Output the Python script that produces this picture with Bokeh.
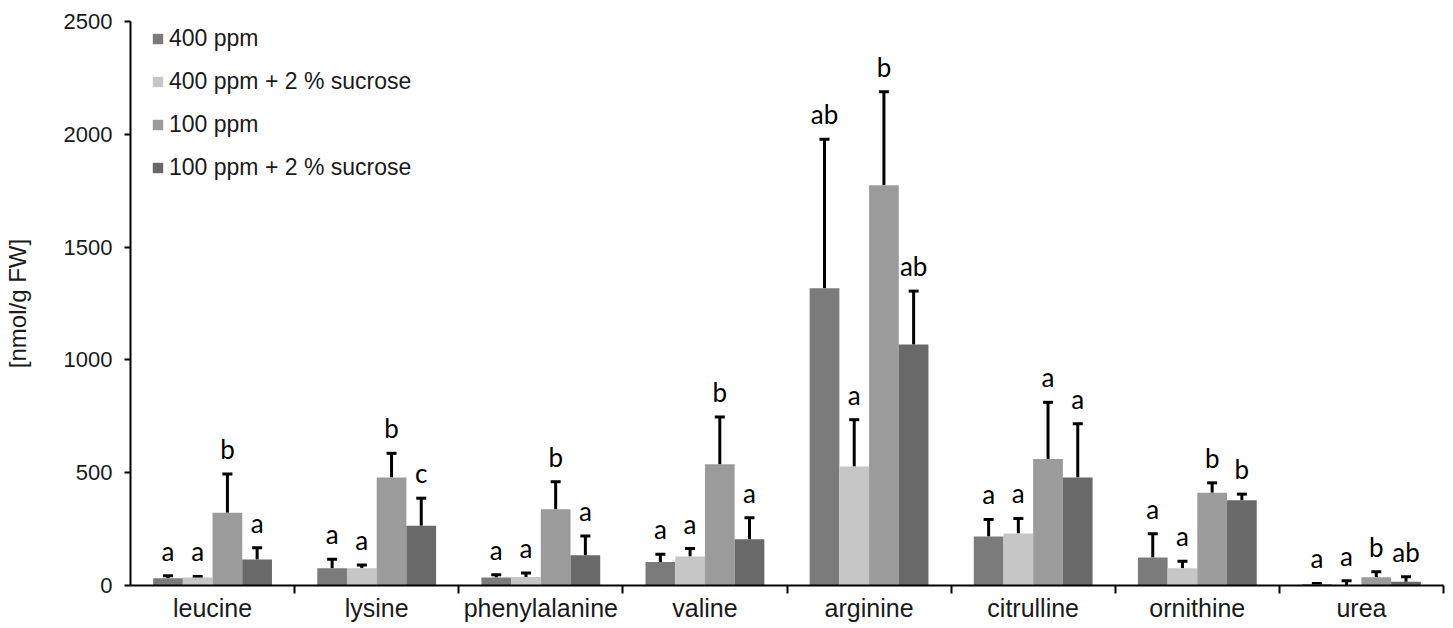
import numpy as np
from bokeh.plotting import figure
from bokeh.models import (ColumnDataSource, Range1d, FixedTicker, Whisker, TeeHead,
                          Legend, LegendItem)
from bokeh.core.properties import value
from bokeh.embed import file_html
from bokeh.resources import INLINE

categories = ["leucine", "lysine", "phenylalanine", "valine",
              "arginine", "citrulline", "ornithine", "urea"]
series_names = ["400 ppm", "400 ppm + 2 % sucrose", "100 ppm", "100 ppm + 2 % sucrose"]

ppm400 = [32, 77, 36, 104, 1318, 217, 124, 6]
sd400 = [11, 39, 12, 34, 660, 76, 105, 3]
ppm400_suc = [36, 77, 38, 128, 527, 231, 76, 2]
sd400_suc = [4, 14, 17, 36, 208, 66, 32, 19]
ppm100 = [323, 479, 338, 537, 1774, 561, 411, 37]
sd100 = [171, 107, 122, 210, 415, 251, 44, 24]
ppm100_suc = [115, 265, 134, 205, 1068, 479, 378, 17]
sd100_suc = [52, 122, 85, 95, 237, 238, 27, 22]

let400 = ["a", "a", "a", "a", "ab", "a", "a", "a"]
let400_suc = ["a", "a", "a", "a", "a", "a", "a", "a"]
let100 = ["b", "b", "b", "b", "b", "a", "b", "b"]
let100_suc = ["a", "c", "a", "a", "ab", "a", "b", "ab"]

y_ticks = [0, 500, 1000, 1500, 2000, 2500]

colors = ["#7b7b7b", "#c6c6c6", "#9b9b9b", "#696969"]
means = [ppm400, ppm400_suc, ppm100, ppm100_suc]
sds = [sd400, sd400_suc, sd100, sd100_suc]
letters = [let400, let400_suc, let100, let100_suc]

n = len(categories)
bar_w = 0.181
offsets = [(-1.5 + k) * bar_w for k in range(4)]
centers = np.arange(n) + 0.5

p = figure(width=1453, height=628, output_backend="svg", toolbar_location=None,
           x_range=Range1d(0, n), y_range=Range1d(0, 2500),
           min_border_left=130, min_border_right=10, min_border_top=21,
           min_border_bottom=43)
p.outline_line_color = None
p.xgrid.grid_line_color = None
p.ygrid.grid_line_color = None
p.background_fill_color = "white"

items = []
for k in range(4):
    m = np.array(means[k], dtype=float)
    s = np.array(sds[k], dtype=float)
    src = ColumnDataSource(dict(x=centers + offsets[k], top=m, upper=m + s,
                                lab=letters[k]))
    r = p.vbar(x="x", top="top", width=bar_w, bottom=0, source=src,
               fill_color=colors[k], line_color=None)
    w = Whisker(base="x", lower="top", upper="upper", source=src,
                line_color="black", line_width=3,
                upper_head=TeeHead(size=10, line_width=3, line_color="black"),
                lower_head=None)
    p.add_layout(w)
    p.text(x="x", y="upper", text="lab", source=src, text_align="center",
           text_baseline="bottom", y_offset=-9, text_color="black",
           text_font=value("Lato"), text_font_size="26px")
    items.append(LegendItem(label=series_names[k], renderers=[r]))

legend = Legend(items=items, location=(21, 404), orientation="vertical",
                glyph_width=13, glyph_height=13, label_height=20, spacing=16,
                label_standoff=5, padding=0, margin=0,
                label_text_font="Liberation Sans", label_text_font_size="23px",
                label_text_color="#1a1a1a",
                background_fill_alpha=0, border_line_color=None)
p.add_layout(legend)

# y axis
yax = p.yaxis[0]
yax.ticker = FixedTicker(ticks=y_ticks)
yax.axis_line_width = 2
yax.axis_line_color = "black"
yax.major_tick_in = 0
yax.major_tick_out = 6
yax.major_tick_line_width = 2
yax.minor_tick_line_color = None
yax.major_label_standoff = 12
yax.major_label_text_font = "Liberation Sans"
yax.major_label_text_font_size = "22px"
yax.major_label_text_color = "#1a1a1a"
yax.axis_label = "[nmol/g FW]"
yax.axis_label_text_font = "Liberation Sans"
yax.axis_label_text_font_style = "normal"
yax.axis_label_text_font_size = "24px"
yax.axis_label_text_color = "#1a1a1a"
yax.axis_label_standoff = 30

# x axis
xax = p.xaxis[0]
xax.ticker = FixedTicker(ticks=list(centers), minor_ticks=list(range(1, n + 1)))
xax.major_label_overrides = {float(c): categories[i] for i, c in enumerate(centers)}
xax.axis_line_width = 2
xax.axis_line_color = "black"
xax.major_tick_line_color = None
xax.major_tick_in = 0
xax.major_tick_out = 0
xax.minor_tick_in = 0
xax.minor_tick_out = 8
xax.minor_tick_line_width = 2
xax.minor_tick_line_color = "black"
xax.major_label_standoff = 0
xax.major_label_text_font = "Liberation Sans"
xax.major_label_text_font_size = "25px"
xax.major_label_text_color = "#1a1a1a"

open("out.html", "w").write(file_html(p, INLINE))
